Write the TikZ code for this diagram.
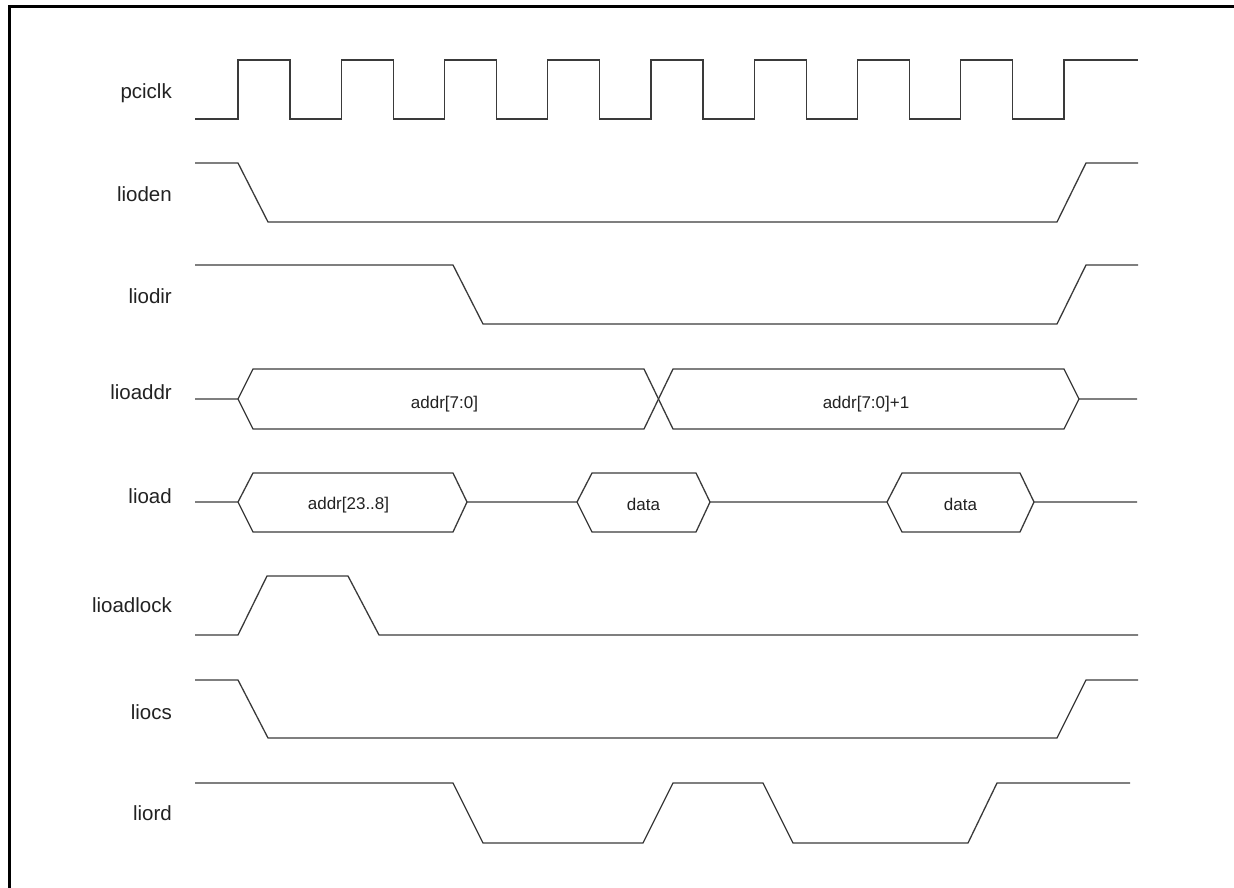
\documentclass[tikz,border=0pt]{standalone}
\usepackage{fontspec}
\setmainfont{Liberation Sans}
\definecolor{sigcol}{HTML}{3A3A3A}
\definecolor{txtcol}{HTML}{222222}
\begin{document}
\begin{tikzpicture}[x=1pt,y=-1pt,
  sig/.style={draw=sigcol,line width=1.3pt,line join=miter},
  frame/.style={draw=black,line width=2.8pt},
  lbl/.style={anchor=base east,text=txtcol,inner sep=0pt,font=\fontsize{20.5}{24}\selectfont},
  buslbl/.style={anchor=base,text=txtcol,inner sep=0pt,font=\fontsize{17}{20}\selectfont}]
\useasboundingbox (0,0) rectangle (1234,888);
\clip (0,0) rectangle (1234,888);
% frame
\draw[frame] (9.2,900) -- (9.2,6.5) -- (1240,6.5);
% labels
\node[lbl] (lpciclk) at (172,99) {pciclk};
\node[lbl] (llioden) at (172,201) {lioden};
\node[lbl] (lliodir) at (172,303) {liodir};
\node[lbl] (llioaddr) at (172,399) {lioaddr};
\node[lbl] (llioad) at (172,503) {lioad};
\node[lbl] (llioadlock) at (172,612) {lioadlock};
\node[lbl] (lliocs) at (172,719) {liocs};
\node[lbl] (lliord) at (172,820) {liord};
% pciclk
\draw[sig] (195,119) -| (238,60) -| (290,119) -| (341.25,60) -| (393.25,119)
  -| (444.5,60) -| (496.5,119) -| (547.75,60) -| (599.75,119)
  -| (651,60) -| (703,119) -| (754.25,60) -| (806.25,119)
  -| (857.5,60) -| (909.5,119) -| (960.75,60) -| (1012.75,119)
  -| (1064,60) -- (1138,60);
% lioden
\draw[sig] (195,163) -- (238,163) -- (268,222) -- (1057,222) -- (1086,163) -- (1138,163);
% liodir
\draw[sig] (195,265) -- (453,265) -- (483,324) -- (1057,324) -- (1086,265) -- (1138,265);
% lioaddr
\draw[sig] (195,399) -- (238,399) -- (253,369) -- (644,369) -- (673,429) -- (1064,429) -- (1079,399) -- (1137,399);
\draw[sig] (238,399) -- (253,429) -- (644,429) -- (673,369) -- (1064,369) -- (1079,399);
\node[buslbl] (a70) at (444.5,408) {addr[7:0]};
\node[buslbl] (a71) at (866,408) {addr[7:0]+1};
% lioad
\draw[sig] (195,502) -- (238,502) -- (253,473) -- (453,473) -- (467,502) -- (577,502) -- (592,473) -- (696,473)
  -- (710,502) -- (887,502) -- (902,473) -- (1020,473) -- (1034,502) -- (1137,502);
\draw[sig] (238,502) -- (253,532) -- (453,532) -- (467,502);
\draw[sig] (577,502) -- (592,532) -- (696,532) -- (710,502);
\draw[sig] (887,502) -- (902,532) -- (1020,532) -- (1034,502);
\node[buslbl] (a238) at (348.5,509) {addr[23..8]};
\node[buslbl] (d1) at (643.5,510) {data};
\node[buslbl] (d2) at (960.5,510) {data};
% lioadlock
\draw[sig] (195,635) -- (238,635) -- (267,576) -- (348,576) -- (379,635) -- (1138,635);
% liocs
\draw[sig] (195,680) -- (238,680) -- (268,738) -- (1057,738) -- (1086,680) -- (1138,680);
% liord
\draw[sig] (195,783) -- (453,783) -- (483,843) -- (643,843) -- (673,783) -- (763,783) -- (793,843)
  -- (968,843) -- (997,783) -- (1130,783);
\end{tikzpicture}
\end{document}
